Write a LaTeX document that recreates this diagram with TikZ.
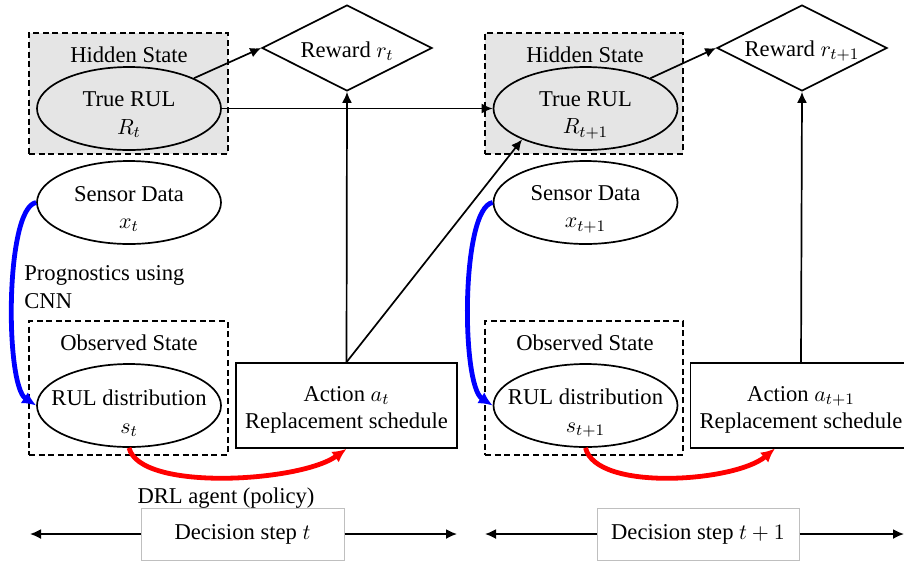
\documentclass[tikz,border=0pt]{standalone}
\usepackage{fontspec}
\setmainfont{Liberation Serif}
\usetikzlibrary{arrows.meta,shapes.geometric}
\begin{document}
\begin{tikzpicture}[x=0.5pt,y=-0.5pt,
  font=\fontsize{11.3}{13.8}\selectfont,
  dbox/.style={draw, dash pattern=on 3pt off 1.8pt, line width=0.85pt, inner sep=0pt},
  ell/.style={draw, ellipse, line width=0.85pt, minimum width=92pt, minimum height=41.5pt, inner sep=0pt},
  txt/.style={align=center, inner sep=0pt},
  act/.style={draw, line width=0.85pt, minimum width=110.5pt, minimum height=42.5pt, inner sep=0pt, align=center},
  rwd/.style={draw, diamond, aspect=2, line width=0.85pt, minimum width=85pt, minimum height=43pt, inner sep=0pt},
  conn/.style={line width=0.85pt, -{Latex[length=5.5pt,width=5pt]}},
  blu/.style={blue, line width=2.4pt, -{Latex[length=7pt,width=6.5pt]}},
  rd/.style={red, line width=2.4pt, -{Latex[length=7pt,width=6.5pt]}},
  dstep/.style={draw=gray!50, line width=0.5pt, fill=white, minimum height=26pt, inner sep=0pt},
]
\useasboundingbox (0,0) rectangle (904,563);

% ---------- step t ----------
\node[dbox, fill=gray!20, minimum width=99.5pt, minimum height=60.5pt] (hid1) at (128.5,93.5) {};
\node[txt] (hid1t) at (129,55) {Hidden State};
\node[ell, fill=gray!20] (rul1) at (129,108.5) {};
\node[txt] (rul1t) at (129,115) {True RUL\\$R_t$};

\node[ell] (sen1) at (129,202.5) {};
\node[txt] (sen1t) at (129,209) {Sensor Data\\$x_t$};

\node[txt, align=left, anchor=west] (prog) at (24,287) {Prognostics using\\CNN};

\node[dbox, minimum width=99.5pt, minimum height=67pt] (obs1) at (128.5,388) {};
\node[txt] (obs1t) at (129,343) {Observed State};
\node[ell] (dist1) at (129,405.5) {};
\node[txt] (dist1t) at (129,413) {RUL distribution\\$s_t$};

\node[rwd] (rw1) at (347,48) {};
\node[txt] (rw1t) at (347,51) {Reward $r_t$};

\node[act] (act1) at (346.5,405.5) {};
\node[txt] (act1t) at (346.5,410) {Action $a_t$\\Replacement schedule};

\node[txt] (drl) at (226,498) {DRL agent (policy)};

% ---------- step t+1 ----------
\node[dbox, fill=gray!20, minimum width=99pt, minimum height=60.5pt] (hid2) at (584,93.5) {};
\node[txt] (hid2t) at (585,55) {Hidden State};
\node[ell, fill=gray!20] (rul2) at (585.5,108.5) {};
\node[txt] (rul2t) at (585.5,115) {True RUL\\$R_{t+1}$};

\node[ell] (sen2) at (585.5,202.5) {};
\node[txt] (sen2t) at (585.5,209) {Sensor Data\\$x_{t+1}$};

\node[dbox, minimum width=99pt, minimum height=67pt] (obs2) at (584,388) {};
\node[txt] (obs2t) at (585,343) {Observed State};
\node[ell] (dist2) at (585.5,405.5) {};
\node[txt] (dist2t) at (585.5,413) {RUL distribution\\$s_{t+1}$};

\node[rwd] (rw2) at (802,48) {};
\node[txt] (rw2t) at (802,51) {Reward $r_{t+1}$};

\node[act] (act2) at (801,405.5) {};
\node[txt] (act2t) at (801,410) {Action $a_{t+1}$\\Replacement schedule};

% ---------- connectors ----------
\draw[conn] (rul1.25) -- (rw1.west);
\draw[conn] (rul1.east) -- (rul2.west);
\draw[conn] (act1.north) -- (rw1.south);
\draw[conn] (act1.north) -- (rul2.206);
\draw[conn] (rul2.25) -- (rw2.west);
\draw[conn] (act2.north) -- (rw2.south);

\draw[blu] (sen1.west) .. controls (5,208) and (5,385) .. (dist1.west);
\draw[blu] (sen2.west) .. controls (461,208) and (461,385) .. (dist2.west);

\coordinate (a2tip) at (775,448.5);
\draw[rd] (dist1.south) .. controls (140,492) and (300,482) .. (act1.south);
\draw[rd] (dist2.south) .. controls (596,492) and (735,482) .. (a2tip);

% ---------- decision steps ----------
\node[dstep, minimum width=101.5pt] (ds1) at (242.5,534) {Decision step $t$};
\node[dstep, minimum width=101pt] (ds2) at (698,534) {Decision step $t+1$};
\coordinate (l1) at (30,534);
\coordinate (r1) at (457,534);
\coordinate (l2) at (485,534);
\coordinate (r2) at (904,534);
\draw[conn] (ds1.west) -- (l1);
\draw[conn] (ds1.east) -- (r1);
\draw[conn] (ds2.west) -- (l2);
\draw[conn] (ds2.east) -- (r2);
\end{tikzpicture}
\end{document}
